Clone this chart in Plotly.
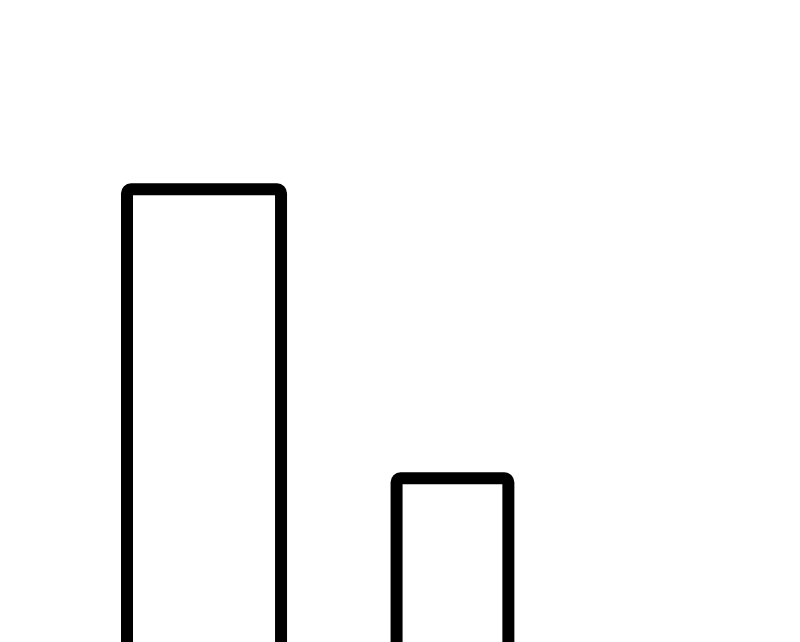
import plotly.graph_objects as go

categories = ['A', 'B']
values = [77.4, 41.4]
bar_widths = [0.62, 0.45]

fig = go.Figure()
fig.add_trace(go.Bar(
    x=categories,
    y=values,
    width=bar_widths,
    marker=dict(color='white', line=dict(color='black', width=12), cornerradius=4),
))
# page has an 8px body margin, ranges shifted to compensate
fig.update_layout(
    width=800, height=642,
    margin=dict(l=0, r=0, t=0, b=0),
    paper_bgcolor='white', plot_bgcolor='white',
    showlegend=False,
    xaxis=dict(visible=False, range=[-0.789, 2.431]),
    yaxis=dict(visible=False, range=[20, 100]),
)
fig.write_html('out.html')
